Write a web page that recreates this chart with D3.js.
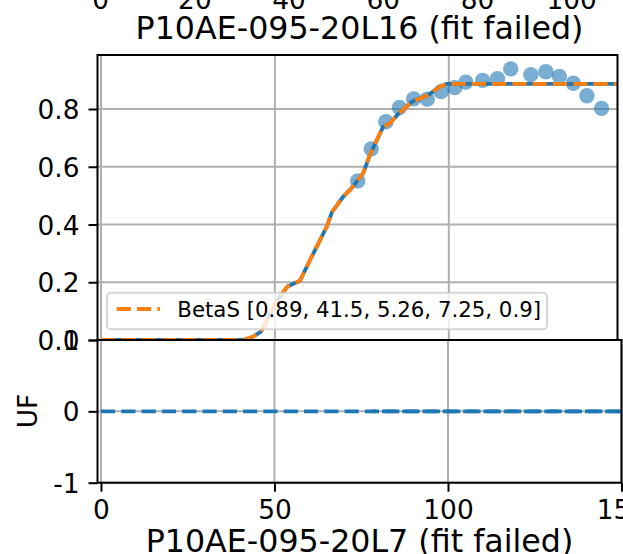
<!DOCTYPE html>
<html>
<head>
<meta charset="utf-8">
<script src="https://cdn.jsdelivr.net/npm/d3@7"></script>
<style>
  body { margin: 0; background: #fff; }
  svg { display: block; }
  text { font-family: "DejaVu Sans", sans-serif; fill: #000; }
</style>
</head>
<body>
<svg id="chart" width="623" height="554"></svg>
<script>
// ---- data ----
const topTicks = [0, 20, 40, 60, 80, 100];
const topTitle = "P10AE-095-20L16 (fit failed)";
const bottomTitle = "P10AE-095-20L7 (fit failed)";

// observed points
const obsX = [73.8, 77.7, 81.9, 85.8, 89.9, 93.8, 97.8, 101.7, 104.9, 109.7,
              114.0, 117.8, 123.6, 127.9, 131.8, 135.8, 139.7, 143.9];
const obsY = [0.551, 0.662, 0.756, 0.805, 0.835, 0.834, 0.860, 0.874, 0.893, 0.899,
              0.905, 0.939, 0.919, 0.929, 0.913, 0.889, 0.846, 0.802];

// fitted BetaS curve
const fitX = [0, 40.9, 43.5, 46.0, 50.5, 53.6, 57.2, 60.1, 64.9, 66.4, 69.6, 72.0,
              75.4, 77.3, 81.1, 83.0, 85.4, 89.4, 94.1, 97.4, 99.4, 150];
const fitY = [0, 0, 0.010, 0.029, 0.135, 0.185, 0.205, 0.277, 0.392, 0.443, 0.496, 0.525,
              0.578, 0.641, 0.738, 0.750, 0.782, 0.825, 0.848, 0.877, 0.887, 0.887];
const fitLabel = "BetaS [0.89, 41.5, 5.26, 7.25, 0.9]";

const mainYTicks = [0, 0.2, 0.4, 0.6, 0.8];
const mainXGrid = [0, 50, 100];

// UF panel
const ufX = [0, 150];
const ufY = [0, 0];
const ufX2 = [78, 150];
const ufY2 = [0, 0];
const ufYTicks = [-1, 0, 1];
const ufXTicks = [0, 50, 100, 150];

// ---- styles ----
const TICK_FS = 26.4, TITLE_FS = 31.7, LEG_FS = 21.3;
const BLUE = "#1f77b4", ORANGE = "#ff7f0e", GRID = "#b0b0b0";
const LW = 3.84, DASH = "14.2 6.1";

const svg = d3.select("#chart");

// ---- strip of the panel above: tick labels and title ----
const xTop = d3.scaleLinear().domain([0, 100]).range([100.7, 571.7]);
svg.append("g").selectAll("text").data(topTicks).join("text")
  .attr("x", d => xTop(d)).attr("y", 9)
  .attr("text-anchor", "middle").attr("font-size", TICK_FS)
  .text(d => d);
svg.append("text").attr("x", 359.5).attr("y", 39.3)
  .attr("text-anchor", "middle").attr("font-size", TITLE_FS)
  .text(topTitle);

// ---- main panel ----
const M = { l: 97.5, r: 617.5, t: 55, b: 340 };
const x = d3.scaleLinear().domain([-1, 148.5]).range([M.l, M.r]);
const y = d3.scaleLinear().domain([0, 0.987]).range([M.b, M.t]);

const defs = svg.append("defs");
defs.append("clipPath").attr("id", "clipMain").append("rect")
  .attr("x", M.l).attr("y", M.t).attr("width", M.r - M.l).attr("height", M.b - M.t);

const main = svg.append("g");
main.append("rect").attr("x", M.l).attr("y", M.t)
  .attr("width", M.r - M.l).attr("height", M.b - M.t).attr("fill", "#fff");

// grid
main.append("g").selectAll("line").data(mainYTicks).join("line")
  .attr("x1", M.l).attr("x2", M.r).attr("y1", d => y(d)).attr("y2", d => y(d))
  .attr("stroke", GRID).attr("stroke-width", 2);
main.append("g").selectAll("line").data(mainXGrid).join("line")
  .attr("x1", d => x(d)).attr("x2", d => x(d)).attr("y1", M.t).attr("y2", M.b)
  .attr("stroke", GRID).attr("stroke-width", 2);

const plot = main.append("g").attr("clip-path", "url(#clipMain)");
plot.append("g").selectAll("circle").data(obsX).join("circle")
  .attr("cx", d => x(d)).attr("cy", (d, i) => y(obsY[i])).attr("r", 7.7)
  .attr("fill", BLUE).attr("fill-opacity", 0.6);

const fitPts = fitX.map((d, i) => [d, fitY[i]]);
const lineMain = d3.line().x(d => x(d[0])).y(d => y(d[1]));
plot.append("path").datum(fitPts).attr("d", lineMain)
  .attr("fill", "none").attr("stroke", BLUE).attr("stroke-width", LW);
plot.append("path").datum(fitPts).attr("d", lineMain)
  .attr("fill", "none").attr("stroke", ORANGE).attr("stroke-width", LW)
  .attr("stroke-dasharray", DASH);

// y axis
const yAxis = main.append("g").attr("transform", `translate(${M.l},0)`)
  .call(d3.axisLeft(y).tickValues(mainYTicks).tickFormat(d3.format(".1f"))
    .tickSize(9).tickPadding(9));
yAxis.select(".domain").remove();
yAxis.selectAll("line").attr("stroke", "#000").attr("stroke-width", 2);
yAxis.selectAll("text").attr("font-size", TICK_FS).attr("font-family", "DejaVu Sans").attr("dy", "0.36em");

// spines
main.append("rect").attr("x", M.l).attr("y", M.t)
  .attr("width", M.r - M.l).attr("height", M.b - M.t)
  .attr("fill", "none").attr("stroke", "#000").attr("stroke-width", 2);

// legend
const leg = main.append("g");
leg.append("rect").attr("x", 107).attr("y", 292.7).attr("width", 440).attr("height", 36.6)
  .attr("rx", 4).attr("fill", "#fff").attr("fill-opacity", 0.8)
  .attr("stroke", "#cccccc").attr("stroke-opacity", 0.8).attr("stroke-width", 2);
leg.append("line").attr("x1", 116.7).attr("x2", 160).attr("y1", 309).attr("y2", 309)
  .attr("stroke", ORANGE).attr("stroke-width", LW).attr("stroke-dasharray", DASH);
leg.append("text").attr("x", 177.3).attr("y", 316.8).attr("font-size", LEG_FS).text(fitLabel);

// ---- UF panel ----
const U = { l: 97.5, r: 621.5, t: 340, b: 482.7 };
const xu = d3.scaleLinear().domain([-1, 150]).range([U.l, U.r]);
const yu = d3.scaleLinear().domain([-1, 1]).range([U.b, U.t]);

defs.append("clipPath").attr("id", "clipUF").append("rect")
  .attr("x", U.l).attr("y", U.t).attr("width", U.r - U.l).attr("height", U.b - U.t);

const uf = svg.append("g");
uf.append("rect").attr("x", U.l).attr("y", U.t)
  .attr("width", U.r - U.l).attr("height", U.b - U.t).attr("fill", "#fff");
uf.append("g").selectAll("line").data(ufYTicks).join("line")
  .attr("x1", U.l).attr("x2", U.r).attr("y1", d => yu(d)).attr("y2", d => yu(d))
  .attr("stroke", GRID).attr("stroke-width", 2);
uf.append("g").selectAll("line").data(ufXTicks).join("line")
  .attr("x1", d => xu(d)).attr("x2", d => xu(d)).attr("y1", U.t).attr("y2", U.b)
  .attr("stroke", GRID).attr("stroke-width", 2);

const ufPlot = uf.append("g").attr("clip-path", "url(#clipUF)");
const lineUF = d3.line().x(d => xu(d[0])).y(d => yu(d[1]));
ufPlot.append("path").datum(ufX.map((d, i) => [d, ufY[i]])).attr("d", lineUF)
  .attr("fill", "none").attr("stroke", BLUE).attr("stroke-width", LW)
  .attr("stroke-dasharray", DASH);
ufPlot.append("path").datum(ufX2.map((d, i) => [d, ufY2[i]])).attr("d", lineUF)
  .attr("fill", "none").attr("stroke", BLUE).attr("stroke-width", LW)
  .attr("stroke-dasharray", DASH).attr("stroke-dashoffset", 10);

const yuAxis = uf.append("g").attr("transform", `translate(${U.l},0)`)
  .call(d3.axisLeft(yu).tickValues(ufYTicks).tickFormat(d => d < 0 ? "-" + Math.abs(d) : String(d))
    .tickSize(9).tickPadding(9));
yuAxis.select(".domain").remove();
yuAxis.selectAll("line").attr("stroke", "#000").attr("stroke-width", 2);
yuAxis.selectAll("text").attr("font-size", TICK_FS).attr("font-family", "DejaVu Sans").attr("dy", "0.36em");

const xuAxis = uf.append("g").attr("transform", `translate(0,${U.b})`)
  .call(d3.axisBottom(xu).tickValues(ufXTicks).tickFormat(d3.format("d"))
    .tickSize(9).tickPadding(9));
xuAxis.select(".domain").remove();
xuAxis.selectAll("line").attr("stroke", "#000").attr("stroke-width", 2);
xuAxis.selectAll("text").attr("font-size", TICK_FS).attr("font-family", "DejaVu Sans");

uf.append("rect").attr("x", U.l).attr("y", U.t)
  .attr("width", U.r - U.l).attr("height", U.b - U.t)
  .attr("fill", "none").attr("stroke", "#000").attr("stroke-width", 2);

uf.append("text").attr("transform", "translate(37,411) rotate(-90)")
  .attr("text-anchor", "middle").attr("font-size", TICK_FS).text("UF");

svg.append("text").attr("x", 359.5).attr("y", 552)
  .attr("text-anchor", "middle").attr("font-size", TITLE_FS).text(bottomTitle);
</script>
</body>
</html>
